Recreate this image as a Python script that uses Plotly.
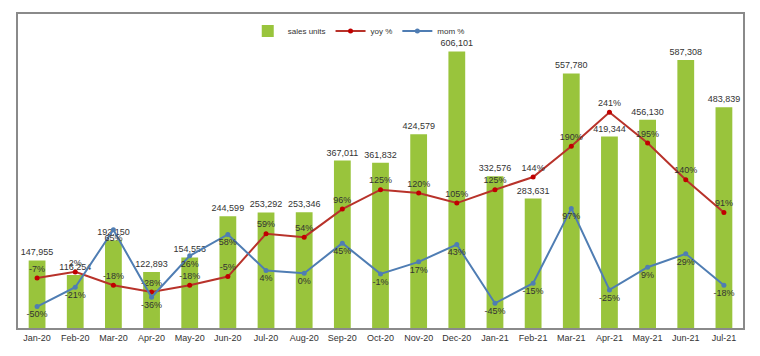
import plotly.graph_objects as go

months = ["Jan-20", "Feb-20", "Mar-20", "Apr-20", "May-20", "Jun-20", "Jul-20", "Aug-20",
          "Sep-20", "Oct-20", "Nov-20", "Dec-20", "Jan-21", "Feb-21", "Mar-21", "Apr-21",
          "May-21", "Jun-21", "Jul-21"]
sales_units = [147955, 116254, 192150, 122893, 154553, 244599, 253292, 253346,
               367011, 361832, 424579, 606101, 332576, 283631, 557780, 419344,
               456130, 587308, 483839]
yoy_pct = [-7, 2, -18, -28, -18, -5, 59, 54, 96, 125, 120, 105, 125, 144, 190, 241, 195, 140, 91]
mom_pct = [-50, -21, 65, -36, 26, 58, 4, 0, 45, -1, 17, 43, -45, -15, 97, -25, 9, 29, -18]

FONT = "Liberation Sans"
TXT = "#333333"

fig = go.Figure()
fig.add_trace(go.Bar(
    x=months, y=sales_units, name="sales units",
    marker=dict(color="#99C43C", line=dict(width=0)),
    width=0.44,
    text=[f"{v:,}" for v in sales_units], textposition="outside",
    constraintext="none",
    textfont=dict(family=FONT, size=9, color=TXT), cliponaxis=False,
))
fig.add_trace(go.Scatter(
    x=months, y=yoy_pct, name="yoy %", yaxis="y2", mode="lines+markers+text",
    line=dict(color="#B8322A", width=2), marker=dict(color="#C00000", size=5),
    text=[f"{v}%" for v in yoy_pct], textposition="top center",
    textfont=dict(family=FONT, size=9, color=TXT), cliponaxis=False,
))
fig.add_trace(go.Scatter(
    x=months, y=mom_pct, name="mom %", yaxis="y2", mode="lines+markers+text",
    line=dict(color="#4F7DB3", width=2), marker=dict(color="#4F7DB3", size=5),
    text=[f"{v}%" for v in mom_pct], textposition="bottom center",
    textfont=dict(family=FONT, size=9, color=TXT), cliponaxis=False,
))

# page body adds an 8px offset; figure is sized so the plot box lands at x 18-743, y 14-328
fig.update_layout(
    width=744, height=340,
    margin=dict(l=10, r=9, t=6, b=20, autoexpand=False),
    paper_bgcolor="white", plot_bgcolor="white",
    font=dict(family=FONT, size=9, color=TXT),
    showlegend=True,
    legend=dict(orientation="h", x=0.47, xanchor="center", y=0.946, yanchor="middle",
                font=dict(family=FONT, size=8, color=TXT), bgcolor="rgba(0,0,0,0)",
                itemwidth=30, tracegroupgap=0),
    xaxis=dict(range=[-0.5, len(months) - 0.5], showline=True, mirror=True,
               linecolor="#8A8A8A", linewidth=2, automargin=False,
               ticks="", showgrid=False, tickfont=dict(family=FONT, size=9, color=TXT)),
    yaxis=dict(range=[0, 688000], showticklabels=False, showgrid=False, zeroline=False,
               automargin=False,
               showline=True, mirror=True, linecolor="#8A8A8A", linewidth=2, ticks=""),
    yaxis2=dict(range=[-82, 388], overlaying="y", side="right", showticklabels=False,
                automargin=False,
                showgrid=False, zeroline=False, showline=False, ticks=""),
    bargap=0.56,
)

fig.write_html("out.html")
